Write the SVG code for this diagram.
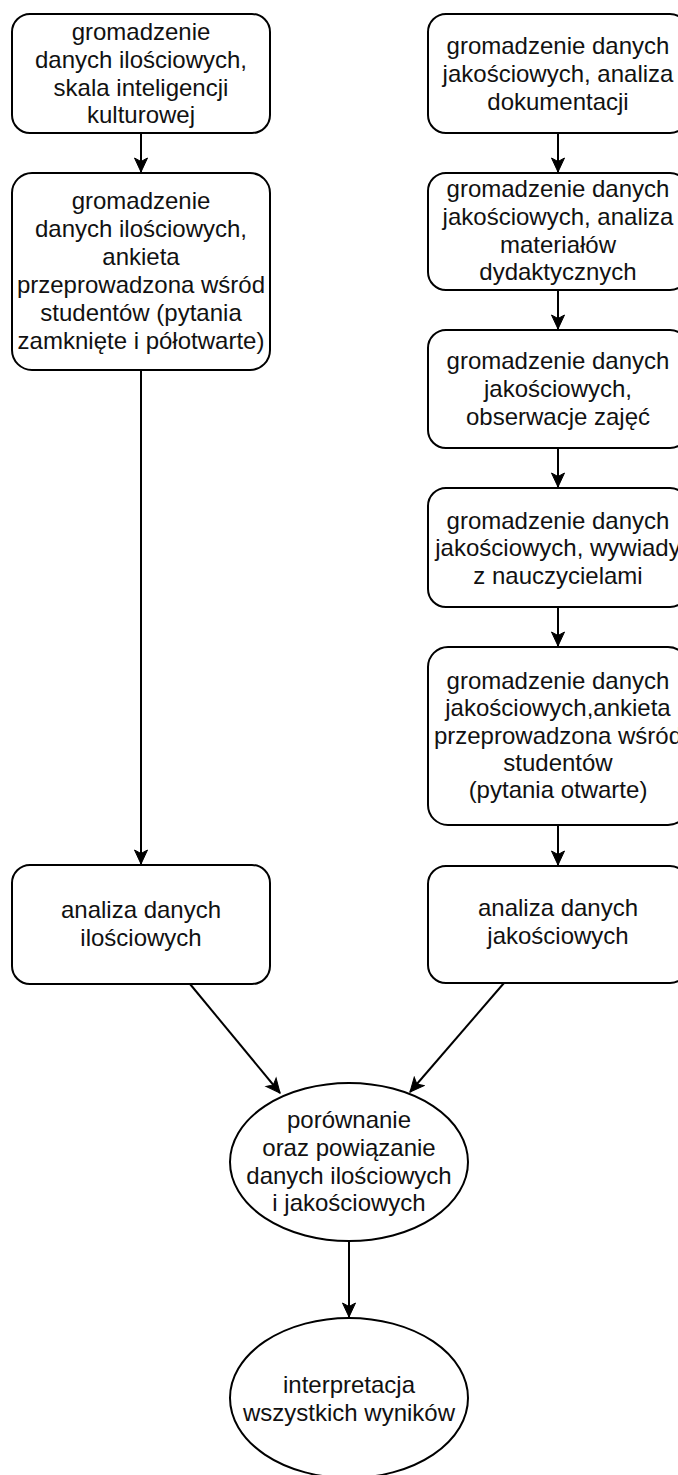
<svg xmlns="http://www.w3.org/2000/svg" width="678" height="1475" viewBox="0 0 678 1475">
<style>
.box{fill:#fff;stroke:#000;stroke-width:2}
.t{font-family:"Liberation Sans",Arial,sans-serif;font-size:24px;fill:#111;text-anchor:middle}
.c{stroke:#000;stroke-width:2;fill:none}
</style>
<defs>
<marker id="ar" viewBox="0 0 16 16" refX="15" refY="8" markerWidth="16" markerHeight="16" markerUnits="userSpaceOnUse" orient="auto">
<path d="M15,8 L1,1.5 L4.5,8 L1,14.5 Z" fill="#000" stroke="#000" stroke-width="1"/>
</marker>
</defs>
<rect width="678" height="1475" fill="#fff"/>
<g id="connectors">
<line class="c" x1="141" y1="133" x2="141" y2="172" marker-end="url(#ar)"/>
<line class="c" x1="141" y1="370" x2="141" y2="864" marker-end="url(#ar)"/>
<line class="c" x1="558" y1="133" x2="558" y2="172" marker-end="url(#ar)"/>
<line class="c" x1="558" y1="290" x2="558" y2="329" marker-end="url(#ar)"/>
<line class="c" x1="558" y1="448" x2="558" y2="487" marker-end="url(#ar)"/>
<line class="c" x1="558" y1="607" x2="558" y2="646" marker-end="url(#ar)"/>
<line class="c" x1="558" y1="825" x2="558" y2="865" marker-end="url(#ar)"/>
<line class="c" x1="190" y1="984" x2="280" y2="1093" marker-end="url(#ar)"/>
<line class="c" x1="504" y1="983" x2="410" y2="1092" marker-end="url(#ar)"/>
<line class="c" x1="349" y1="1242" x2="349" y2="1317" marker-end="url(#ar)"/>
</g>
<g id="n1">
<rect class="box" x="12" y="14" width="258" height="119" rx="18"/>
<text class="t"><tspan x="141" y="40">gromadzenie</tspan><tspan x="141" y="68">danych ilościowych,</tspan><tspan x="141" y="96">skala inteligencji</tspan><tspan x="141" y="123">kulturowej</tspan></text>
</g>
<g id="n2">
<rect class="box" x="12" y="173" width="258" height="197" rx="20"/>
<text class="t"><tspan x="141" y="209">gromadzenie</tspan><tspan x="141" y="237">danych ilościowych,</tspan><tspan x="141" y="265">ankieta</tspan><tspan x="141" y="293">przeprowadzona wśród</tspan><tspan x="141" y="321">studentów (pytania</tspan><tspan x="141" y="349">zamknięte i półotwarte)</tspan></text>
</g>
<g id="n3">
<rect class="box" x="12" y="865" width="258" height="119" rx="18"/>
<text class="t"><tspan x="141" y="918">analiza danych</tspan><tspan x="141" y="946">ilościowych</tspan></text>
</g>
<g id="r1">
<rect class="box" x="428" y="14" width="260" height="119" rx="18"/>
<text class="t"><tspan x="558" y="54">gromadzenie danych</tspan><tspan x="558" y="82">jakościowych, analiza</tspan><tspan x="558" y="110">dokumentacji</tspan></text>
</g>
<g id="r2">
<rect class="box" x="428" y="173" width="260" height="117" rx="18"/>
<text class="t"><tspan x="558" y="197">gromadzenie danych</tspan><tspan x="558" y="225">jakościowych, analiza</tspan><tspan x="558" y="253">materiałów</tspan><tspan x="558" y="280">dydaktycznych</tspan></text>
</g>
<g id="r3">
<rect class="box" x="428" y="330" width="260" height="118" rx="18"/>
<text class="t"><tspan x="558" y="369">gromadzenie danych</tspan><tspan x="558" y="397">jakościowych,</tspan><tspan x="558" y="425">obserwacje zajęć</tspan></text>
</g>
<g id="r4">
<rect class="box" x="428" y="488" width="260" height="119" rx="18"/>
<text class="t"><tspan x="558" y="529">gromadzenie danych</tspan><tspan x="558" y="556">jakościowych, wywiady</tspan><tspan x="558" y="584">z nauczycielami</tspan></text>
</g>
<g id="r5">
<rect class="box" x="428" y="647" width="260" height="178" rx="20"/>
<text class="t"><tspan x="558" y="689">gromadzenie danych</tspan><tspan x="558" y="716">jakościowych,ankieta</tspan><tspan x="558" y="744">przeprowadzona wśród</tspan><tspan x="558" y="771">studentów</tspan><tspan x="558" y="798">(pytania otwarte)</tspan></text>
</g>
<g id="r6">
<rect class="box" x="428" y="866" width="260" height="117" rx="18"/>
<text class="t"><tspan x="558" y="916">analiza danych</tspan><tspan x="558" y="944">jakościowych</tspan></text>
</g>
<g id="e1">
<ellipse class="box" cx="349" cy="1162" rx="119" ry="79"/>
<text class="t"><tspan x="349" y="1128">porównanie</tspan><tspan x="349" y="1156">oraz powiązanie</tspan><tspan x="349" y="1184">danych ilościowych</tspan><tspan x="349" y="1211">i jakościowych</tspan></text>
</g>
<g id="e2">
<ellipse class="box" cx="349" cy="1398" rx="119" ry="80"/>
<text class="t"><tspan x="349" y="1393">interpretacja</tspan><tspan x="349" y="1421">wszystkich wyników</tspan></text>
</g>
</svg>
